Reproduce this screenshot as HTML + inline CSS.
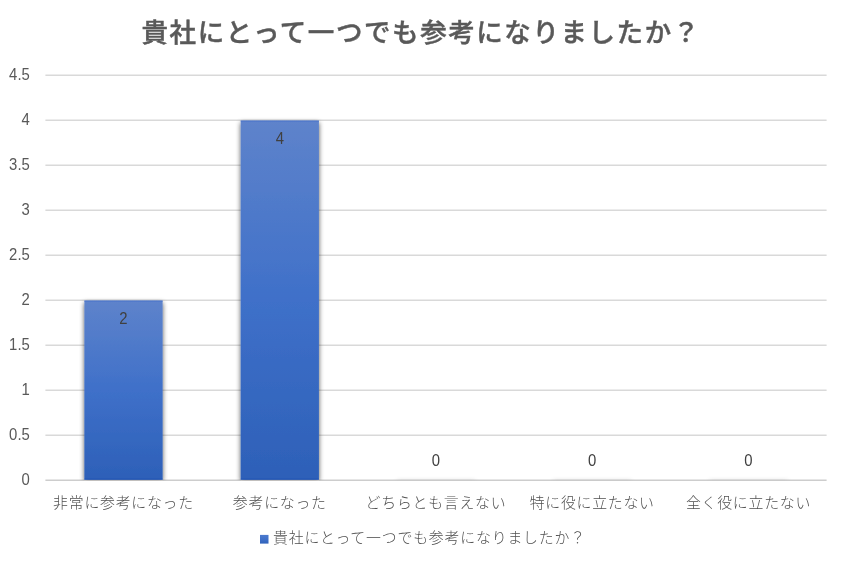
<!DOCTYPE html>
<html lang="ja"><head><meta charset="utf-8"><title>chart</title>
<style>
html,body{margin:0;padding:0;background:#fff;}
body{width:841px;height:561px;overflow:hidden;}
svg{display:block;}
text{font-family:"Liberation Sans","Noto Sans CJK JP",sans-serif;}
.t{font-size:26.5px;font-weight:500;fill:#595959;letter-spacing:1.57px;stroke:#595959;stroke-width:0.45px;}
.c{font-size:14.9px;font-weight:300;fill:#505050;letter-spacing:0.75px;}
.n{font-size:16px;font-weight:400;fill:#595959;}
.d{font-size:16px;font-weight:400;fill:#404040;}
</style></head><body>
<svg width="841" height="561" viewBox="0 0 841 561">
<defs>
<linearGradient id="g" x1="0" y1="0" x2="0" y2="1">
<stop offset="0" stop-color="#5e83cb"/>
<stop offset="0.5" stop-color="#3f70c9"/>
<stop offset="1" stop-color="#2d60b8"/>
</linearGradient>
<linearGradient id="g2" x1="0" y1="0" x2="0" y2="1">
<stop offset="0" stop-color="#4c7acd"/>
<stop offset="0.5" stop-color="#3f70c9"/>
<stop offset="1" stop-color="#2f62ba"/>
</linearGradient>
<filter id="sh" x="0" y="0" width="841" height="561" filterUnits="userSpaceOnUse">
<feGaussianBlur in="SourceAlpha" stdDeviation="2.8"/>
<feOffset dx="0" dy="2"/>
<feComponentTransfer><feFuncA type="linear" slope="0.68"/></feComponentTransfer>
<feMerge><feMergeNode/><feMergeNode in="SourceGraphic"/></feMerge>
</filter>
<filter id="sh0" x="0" y="0" width="841" height="561" filterUnits="userSpaceOnUse">
<feGaussianBlur in="SourceAlpha" stdDeviation="2.8 2.2"/>
<feComponentTransfer><feFuncA type="linear" slope="0.22"/></feComponentTransfer>
</filter>
<clipPath id="cp"><rect x="0" y="0" width="841" height="480.2"/></clipPath>
</defs>
<rect width="841" height="561" fill="#fff"/>
<line x1="45.4" y1="75.2" x2="826.6" y2="75.2" stroke="#d9d9d9" stroke-width="1.4"/>
<line x1="45.4" y1="120.2" x2="826.6" y2="120.2" stroke="#d9d9d9" stroke-width="1.4"/>
<line x1="45.4" y1="165.2" x2="826.6" y2="165.2" stroke="#d9d9d9" stroke-width="1.4"/>
<line x1="45.4" y1="210.2" x2="826.6" y2="210.2" stroke="#d9d9d9" stroke-width="1.4"/>
<line x1="45.4" y1="255.2" x2="826.6" y2="255.2" stroke="#d9d9d9" stroke-width="1.4"/>
<line x1="45.4" y1="300.2" x2="826.6" y2="300.2" stroke="#d9d9d9" stroke-width="1.4"/>
<line x1="45.4" y1="345.2" x2="826.6" y2="345.2" stroke="#d9d9d9" stroke-width="1.4"/>
<line x1="45.4" y1="390.2" x2="826.6" y2="390.2" stroke="#d9d9d9" stroke-width="1.4"/>
<line x1="45.4" y1="435.2" x2="826.6" y2="435.2" stroke="#d9d9d9" stroke-width="1.4"/>
<line x1="45.4" y1="480.2" x2="826.6" y2="480.2" stroke="#cdcdcd" stroke-width="1.4"/>
<g clip-path="url(#cp)">
<rect x="84.4" y="479.4" width="78.2" height="1.6" fill="#fdf8ee"/>
<g filter="url(#sh)"><rect x="84.4" y="300.6" width="78.2" height="179.0" fill="url(#g)"/></g>
<rect x="84.4" y="478.6" width="78.2" height="1" fill="#1c50b5" opacity="0.8"/>
<rect x="84.4" y="300.6" width="78.2" height="1" fill="#4570cb" opacity="0.8"/>
<rect x="240.7" y="479.4" width="78.2" height="1.6" fill="#fdf8ee"/>
<g filter="url(#sh)"><rect x="240.7" y="120.6" width="78.2" height="359.0" fill="url(#g)"/></g>
<rect x="240.7" y="478.6" width="78.2" height="1" fill="#1c50b5" opacity="0.8"/>
<rect x="240.7" y="120.6" width="78.2" height="1" fill="#4570cb" opacity="0.8"/>
<g filter="url(#sh0)"><rect x="396.9" y="480.4" width="78.2" height="1.6" fill="#000"/></g>
<g filter="url(#sh0)"><rect x="553.1" y="480.4" width="78.2" height="1.6" fill="#000"/></g>
<g filter="url(#sh0)"><rect x="709.4" y="480.4" width="78.2" height="1.6" fill="#000"/></g>
</g>
<text class="n" transform="translate(29.8,79.6) scale(0.93,1)" text-anchor="end">4.5</text>
<text class="n" transform="translate(29.8,124.6) scale(0.93,1)" text-anchor="end">4</text>
<text class="n" transform="translate(29.8,169.6) scale(0.93,1)" text-anchor="end">3.5</text>
<text class="n" transform="translate(29.8,214.6) scale(0.93,1)" text-anchor="end">3</text>
<text class="n" transform="translate(29.8,259.6) scale(0.93,1)" text-anchor="end">2.5</text>
<text class="n" transform="translate(29.8,304.6) scale(0.93,1)" text-anchor="end">2</text>
<text class="n" transform="translate(29.8,349.6) scale(0.93,1)" text-anchor="end">1.5</text>
<text class="n" transform="translate(29.8,394.6) scale(0.93,1)" text-anchor="end">1</text>
<text class="n" transform="translate(29.8,439.6) scale(0.93,1)" text-anchor="end">0.5</text>
<text class="n" transform="translate(29.8,484.6) scale(0.93,1)" text-anchor="end">0</text>
<text class="d" transform="translate(123.5,324.3) scale(0.93,1)" text-anchor="middle">2</text>
<text class="d" transform="translate(279.8,144.3) scale(0.93,1)" text-anchor="middle">4</text>
<text class="d" transform="translate(436.0,465.8) scale(0.93,1)" text-anchor="middle">0</text>
<text class="d" transform="translate(592.2,465.8) scale(0.93,1)" text-anchor="middle">0</text>
<text class="d" transform="translate(748.5,465.8) scale(0.93,1)" text-anchor="middle">0</text>
<text class="c" x="123.5" y="508.3" text-anchor="middle">非常に参考になった</text>
<text class="c" x="279.8" y="508.3" text-anchor="middle">参考になった</text>
<text class="c" x="436.0" y="508.3" text-anchor="middle">どちらとも言えない</text>
<text class="c" x="592.2" y="508.3" text-anchor="middle">特に役に立たない</text>
<text class="c" x="748.5" y="508.3" text-anchor="middle">全く役に立たない</text>
<text class="t" x="421.2" y="42.2" text-anchor="middle">貴社にとって一つでも参考になりましたか？</text>
<rect x="260" y="534.9" width="8.5" height="8.7" fill="url(#g2)"/>
<text class="c" style="letter-spacing:0.815px" x="273" y="543.3">貴社にとって一つでも参考になりましたか？</text>
</svg>
</body></html>
